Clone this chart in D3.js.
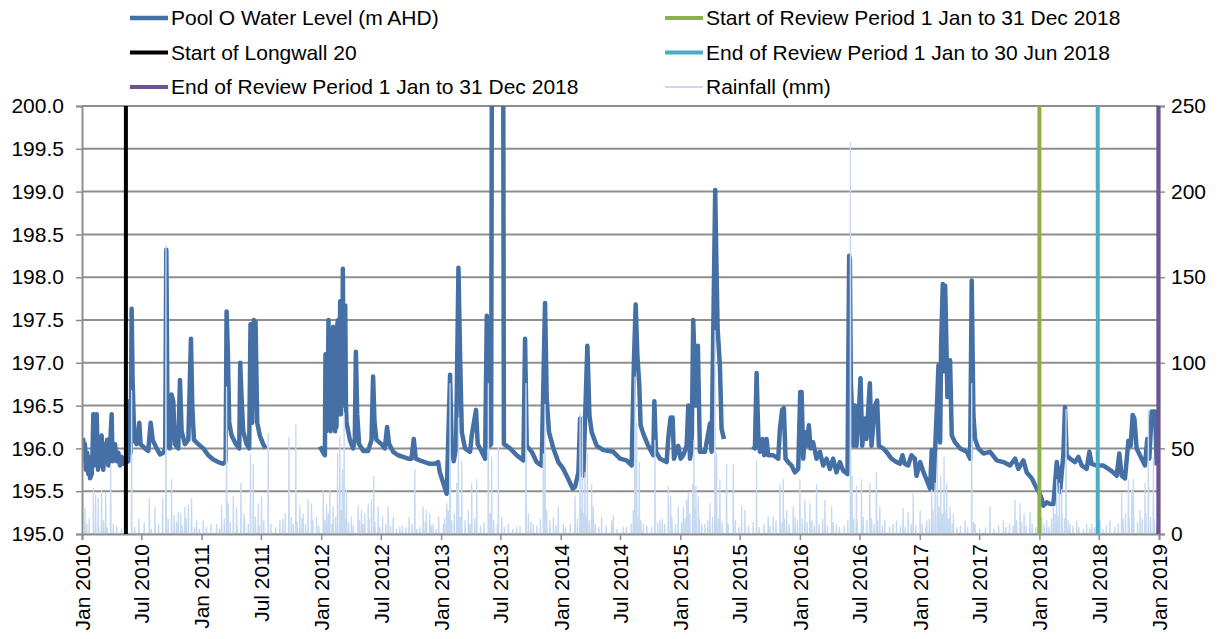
<!DOCTYPE html>
<html>
<head>
<meta charset="utf-8">
<script src="https://cdn.jsdelivr.net/npm/d3@7"></script>
<style>
body { margin: 0; background: #fff; }
svg { display: block; font-family: "Liberation Sans", Arial, sans-serif; }
</style>
</head>
<body>
<svg id="chart" width="1226" height="639"></svg>
<script>
// Pool O water level, [decimal year, m AHD]; null marks a gap in the record
var poolLevel = [
  [2010.006,195.95],[2010.011,196.1],[2010.017,195.85],[2010.024,196.05],[2010.033,195.75],[2010.043,195.95],
  [2010.053,195.7],[2010.060,195.9],[2010.067,195.65],[2010.081,195.7],[2010.088,195.95],
  [2010.095,196.4],[2010.100,195.8],[2010.106,195.9],[2010.114,196.0],[2010.123,196.4],[2010.134,195.75],
  [2010.141,196.1],[2010.150,195.8],[2010.157,196.1],[2010.164,196.15],[2010.172,195.85],
  [2010.178,195.75],[2010.190,196.05],[2010.201,195.85],[2010.210,196.1],[2010.220,195.8],[2010.234,196.0],
  [2010.248,196.4],[2010.255,195.85],[2010.262,195.9],[2010.276,196.05],[2010.290,195.85],[2010.304,195.95],
  [2010.318,195.8],[2010.332,195.9],[2010.345,195.82],[2010.387,195.85],[2010.398,196.55],[2010.407,195.95],
  [2010.415,197.63],[2010.423,196.8],[2010.437,196.1],[2010.457,196.05],[2010.479,196.3],[2010.490,196.05],
  [2010.526,196.0],[2010.554,195.97],[2010.574,196.3],[2010.591,196.1],[2010.624,196.0],[2010.652,195.93],
  [2010.680,195.95],[2010.696,196.0],[2010.705,198.32],[2010.716,196.1],[2010.735,196.0],[2010.749,196.63],
  [2010.763,196.55],[2010.777,196.05],[2010.805,196.0],[2010.819,196.8],[2010.833,196.2],[2010.861,196.05],
  [2010.889,196.1],[2010.911,197.28],[2010.922,196.5],[2010.936,196.1],[2010.972,196.05],[2011.014,196.0],
  [2011.056,195.92],[2011.097,195.87],[2011.139,195.84],[2011.181,195.82],[2011.201,195.85],[2011.209,197.6],
  [2011.220,197.1],[2011.231,196.3],[2011.251,196.15],[2011.287,196.05],[2011.315,196.0],[2011.323,197.0],
  [2011.334,196.6],[2011.348,196.2],[2011.376,196.05],[2011.398,196.0],[2011.409,197.45],[2011.423,196.3],
  [2011.437,197.5],[2011.451,197.48],[2011.465,196.3],[2011.487,196.15],[2011.515,196.05],[2011.535,196.0],
  [2011.75,null],
  [2011.989,196.02],[2012.017,195.95],[2012.031,195.92],[2012.036,197.1],[2012.042,196.2],[2012.047,197.0],
  [2012.053,196.25],[2012.061,197.5],[2012.066,196.3],[2012.072,197.35],[2012.078,196.2],[2012.086,196.4],
  [2012.093,197.3],[2012.100,197.42],[2012.106,196.3],[2012.111,197.4],[2012.117,196.2],[2012.123,197.2],
  [2012.128,196.25],[2012.135,197.45],[2012.142,197.5],[2012.148,196.4],[2012.153,197.2],[2012.159,197.72],
  [2012.165,196.4],[2012.170,197.6],[2012.176,196.5],[2012.181,198.1],[2012.187,196.8],[2012.192,197.1],
  [2012.197,196.5],[2012.201,197.67],[2012.207,196.5],[2012.212,196.3],[2012.240,196.1],[2012.267,196.0],
  [2012.281,196.1],[2012.290,197.13],[2012.301,196.4],[2012.317,196.05],[2012.351,195.97],[2012.393,195.97],
  [2012.421,196.1],[2012.434,196.84],[2012.446,196.3],[2012.462,196.1],[2012.504,196.05],[2012.532,196.0],
  [2012.551,196.25],[2012.568,196.05],[2012.602,195.96],[2012.643,195.92],[2012.685,195.9],[2012.727,195.88],
  [2012.755,195.88],[2012.774,196.11],[2012.791,195.88],[2012.824,195.86],[2012.866,195.84],[2012.908,195.82],
  [2012.950,195.82],[2012.978,195.84],[2012.992,195.72],[2013.047,195.47],[2013.075,196.86],[2013.089,196.0],
  [2013.105,195.85],[2013.125,196.0],[2013.145,198.11],[2013.159,197.05],[2013.173,196.19],[2013.200,196.0],
  [2013.242,195.96],[2013.256,196.15],[2013.292,196.45],[2013.306,196.05],[2013.340,195.96],[2013.368,195.88],
  [2013.382,197.55],[2013.396,196.58],[2013.404,196.03],[2013.418,196.05],[2013.426,201.5],[2013.518,201.5],
  [2013.525,196.05],[2013.577,196.0],[2013.632,195.92],[2013.688,195.86],[2013.702,197.28],[2013.716,196.03],
  [2013.758,195.96],[2013.799,195.84],[2013.841,195.8],[2013.869,197.7],[2013.883,196.58],[2013.902,196.19],
  [2013.939,196.0],[2013.980,195.84],[2014.022,195.76],[2014.064,195.64],[2014.100,195.53],[2014.120,195.55],
  [2014.148,195.72],[2014.162,196.35],[2014.189,195.68],[2014.223,197.2],[2014.240,196.39],[2014.259,196.19],
  [2014.301,196.03],[2014.357,195.98],[2014.440,195.96],[2014.496,195.88],[2014.551,195.86],[2014.593,195.8],
  [2014.613,197.05],[2014.627,197.68],[2014.641,197.09],[2014.657,196.74],[2014.668,196.27],[2014.691,196.17],
  [2014.732,196.03],[2014.774,195.92],[2014.783,196.55],[2014.797,195.96],[2014.830,195.88],[2014.886,195.84],
  [2014.900,196.13],[2014.919,196.36],[2014.936,196.36],[2014.947,195.88],[2014.983,196.03],[2015.003,195.88],
  [2015.025,195.92],[2015.053,196.03],[2015.067,196.5],[2015.081,195.88],[2015.095,196.0],[2015.108,197.5],
  [2015.131,196.5],[2015.147,197.2],[2015.164,195.96],[2015.206,195.96],[2015.248,196.29],[2015.262,195.96],
  [2015.284,198.2],[2015.292,199.02],[2015.300,198.3],[2015.312,197.4],[2015.331,196.97],[2015.345,196.23],
  [2015.365,196.11],
  [2015.48,null],
  [2015.602,196.02],[2015.624,196.0],[2015.638,196.88],[2015.652,196.15],[2015.666,195.96],[2015.688,196.11],
  [2015.702,195.92],[2015.721,196.11],[2015.735,195.92],[2015.777,195.92],[2015.819,195.88],[2015.833,196.23],
  [2015.852,196.45],[2015.866,196.47],[2015.880,195.88],[2015.902,195.84],[2015.930,195.8],[2015.958,195.72],
  [2015.986,195.76],[2016.003,196.66],[2016.014,196.66],[2016.028,195.88],[2016.042,196.19],[2016.056,196.03],
  [2016.075,196.27],[2016.089,196.0],[2016.111,196.07],[2016.139,195.88],[2016.167,195.96],[2016.195,195.8],
  [2016.223,195.88],[2016.251,195.76],[2016.278,195.88],[2016.306,195.72],[2016.334,195.84],[2016.362,195.74],
  [2016.398,195.7],[2016.412,198.25],[2016.418,198.2],[2016.426,196.78],[2016.446,196.03],[2016.460,196.5],
  [2016.473,196.03],[2016.496,196.5],[2016.507,196.82],[2016.521,196.03],[2016.543,196.35],[2016.557,196.11],
  [2016.585,196.76],[2016.599,196.03],[2016.627,196.5],[2016.646,196.56],[2016.660,196.03],[2016.696,196.0],
  [2016.724,195.96],[2016.766,195.88],[2016.808,195.84],[2016.836,195.82],[2016.858,195.92],[2016.877,195.82],
  [2016.905,195.8],[2016.933,195.92],[2016.961,195.88],[2016.975,195.68],[2017.003,195.84],[2017.031,195.72],
  [2017.058,195.63],[2017.086,195.53],[2017.100,195.98],[2017.114,195.53],[2017.128,195.98],[2017.142,196.45],
  [2017.156,196.97],[2017.170,196.07],[2017.178,197.2],[2017.192,197.92],[2017.203,196.9],[2017.212,197.9],
  [2017.231,196.6],[2017.253,197.03],[2017.267,196.15],[2017.295,196.07],[2017.337,196.0],[2017.393,195.96],
  [2017.421,195.88],[2017.434,197.96],[2017.448,196.39],[2017.462,196.11],[2017.490,196.0],[2017.532,195.94],
  [2017.588,195.96],[2017.643,195.86],[2017.699,195.84],[2017.755,195.8],[2017.797,195.88],[2017.824,195.76],
  [2017.866,195.86],[2017.894,195.72],[2017.936,195.65],[2017.978,195.53],[2017.997,195.49],[2018.019,195.41],
  [2018.033,195.33],[2018.061,195.37],[2018.089,195.35],[2018.117,195.35],[2018.145,195.84],[2018.159,195.72],
  [2018.173,195.49],[2018.187,195.72],[2018.200,195.92],[2018.214,196.48],[2018.228,195.92],[2018.256,195.88],
  [2018.298,195.84],[2018.326,195.9],[2018.354,195.8],[2018.395,195.76],[2018.418,195.96],[2018.437,195.82],
  [2018.479,195.8],[2018.535,195.8],[2018.577,195.76],[2018.618,195.72],[2018.646,195.68],[2018.668,195.94],
  [2018.688,195.68],[2018.716,195.65],[2018.744,196.09],[2018.763,196.03],[2018.780,196.39],[2018.794,196.35],
  [2018.813,196.0],[2018.855,195.88],[2018.883,195.8],[2018.902,196.11],[2018.919,195.88],[2018.939,196.43],
  [2018.967,196.43],[2018.981,195.8]
];

// daily rainfall on rain days, [decimal year, mm]
var rainfall = [
  [2010.003,30],[2010.025,15],[2010.04,6],[2010.06,9],[2010.095,27],[2010.114,23],[2010.136,21],[2010.14,5],
  [2010.164,26],[2010.18,8],[2010.198,24],[2010.21,4],[2010.240,40],[2010.262,6],[2010.29,5],[2010.33,3],
  [2010.373,16],[2010.415,84],[2010.44,4],[2010.476,9],[2010.52,7],[2010.563,21],[2010.58,3],[2010.610,16],
  [2010.64,6],[2010.674,21],[2010.702,169],[2010.72,9],[2010.749,32],[2010.77,11],[2010.79,7],[2010.805,13],
  [2010.825,12],[2010.84,5],[2010.861,16],[2010.87,9],[2010.889,17],[2010.916,21],[2010.94,4],[2010.958,8],
  [2010.98,3],[2011.014,8],[2011.04,4],[2011.08,6],[2011.125,6],[2011.15,3],[2011.167,17],[2011.19,9],
  [2011.209,86],[2011.223,18],[2011.24,7],[2011.265,22],[2011.292,16],[2011.30,5],[2011.329,30],[2011.354,12],
  [2011.36,9],[2011.39,6],[2011.409,47],[2011.432,41],[2011.45,10],[2011.474,18],[2011.48,5],[2011.501,22],
  [2011.52,8],[2011.557,59],[2011.58,6],[2011.62,4],[2011.655,8],[2011.68,9],[2011.70,12],[2011.730,57],
  [2011.75,10],[2011.766,6],[2011.788,64],[2011.80,7],[2011.822,17],[2011.84,9],[2011.850,12],[2011.87,6],
  [2011.891,20],[2011.919,18],[2011.93,8],[2011.961,10],[2011.98,5],[2012.017,26],[2012.03,8],[2012.045,18],
  [2012.06,12],[2012.072,26],[2012.09,6],[2012.100,16],[2012.12,10],[2012.137,47],[2012.156,57],[2012.17,14],
  [2012.178,38],[2012.192,71],[2012.20,9],[2012.212,26],[2012.23,7],[2012.253,10],[2012.27,5],[2012.309,17],
  [2012.32,8],[2012.337,14],[2012.35,6],[2012.365,12],[2012.393,18],[2012.40,9],[2012.421,20],[2012.440,34],
  [2012.45,7],[2012.476,16],[2012.49,4],[2012.513,10],[2012.54,6],[2012.560,16],[2012.58,5],[2012.602,10],
  [2012.63,3],[2012.657,4],[2012.68,5],[2012.71,4],[2012.735,10],[2012.76,6],[2012.783,38],[2012.80,3],
  [2012.825,4],[2012.852,16],[2012.87,7],[2012.880,14],[2012.908,12],[2012.92,5],[2012.936,6],[2012.96,3],
  [2012.983,10],[2013.019,6],[2013.03,9],[2013.047,18],[2013.06,14],[2013.075,88],[2013.089,8],[2013.11,12],
  [2013.131,30],[2013.145,68],[2013.16,10],[2013.173,43],[2013.20,8],[2013.228,14],[2013.24,6],[2013.256,30],
  [2013.28,9],[2013.298,32],[2013.33,5],[2013.36,7],[2013.395,88],[2013.41,12],[2013.423,45],[2013.44,8],
  [2013.47,6],[2013.479,51],[2013.507,10],[2013.53,4],[2013.562,6],[2013.60,3],[2013.632,4],[2013.66,5],
  [2013.710,88],[2013.73,12],[2013.75,7],[2013.771,6],[2013.80,5],[2013.83,9],[2013.855,47],[2013.869,76],
  [2013.883,14],[2013.91,8],[2013.939,10],[2013.96,5],[2013.980,16],[2014.022,6],[2014.04,4],[2014.08,6],
  [2014.120,22],[2014.14,9],[2014.162,71],[2014.17,14],[2014.181,69],[2014.19,12],[2014.203,36],[2014.21,10],
  [2014.223,47],[2014.24,8],[2014.259,29],[2014.273,16],[2014.29,6],[2014.32,4],[2014.342,10],[2014.38,5],
  [2014.426,8],[2014.440,11],[2014.47,3],[2014.524,4],[2014.55,4],[2014.59,6],[2014.607,14],[2014.621,92],
  [2014.635,65],[2014.65,10],[2014.657,42],[2014.67,8],[2014.691,6],[2014.72,5],[2014.76,4],[2014.788,55],
  [2014.81,7],[2014.830,8],[2014.85,9],[2014.87,6],[2014.900,28],[2014.919,22],[2014.93,10],[2014.96,6],
  [2014.983,16],[2015.01,7],[2015.025,16],[2015.04,9],[2015.053,20],[2015.067,24],[2015.08,12],[2015.103,29],
  [2015.114,55],[2015.12,14],[2015.131,28],[2015.150,22],[2015.16,9],[2015.18,6],[2015.206,6],[2015.23,8],
  [2015.248,18],[2015.27,10],[2015.290,119],[2015.304,47],[2015.32,9],[2015.331,32],[2015.35,7],[2015.387,41],
  [2015.40,6],[2015.443,41],[2015.46,8],[2015.49,4],[2015.513,16],[2015.540,14],[2015.57,5],[2015.61,7],
  [2015.638,43],[2015.66,4],[2015.70,6],[2015.735,10],[2015.75,5],[2015.777,10],[2015.80,8],[2015.833,29],
  [2015.85,7],[2015.861,32],[2015.87,9],[2015.889,14],[2015.91,6],[2015.944,16],[2015.96,10],[2015.98,8],
  [2016.000,32],[2016.02,9],[2016.042,20],[2016.06,7],[2016.084,18],[2016.10,8],[2016.12,5],[2016.139,29],
  [2016.16,6],[2016.19,9],[2016.209,20],[2016.23,5],[2016.265,16],[2016.28,7],[2016.306,6],[2016.33,4],
  [2016.37,5],[2016.40,8],[2016.423,229],[2016.437,34],[2016.45,9],[2016.473,28],[2016.48,7],[2016.515,32],
  [2016.53,10],[2016.56,8],[2016.585,30],[2016.60,9],[2016.62,6],[2016.640,36],[2016.65,8],[2016.668,16],
  [2016.69,5],[2016.710,8],[2016.75,4],[2016.78,6],[2016.808,8],[2016.84,5],[2016.863,15],[2016.88,4],
  [2016.905,13],[2016.93,6],[2016.947,24],[2016.97,5],[2017.003,14],[2017.02,6],[2017.05,4],[2017.058,8],
  [2017.08,9],[2017.100,26],[2017.11,14],[2017.128,30],[2017.13,12],[2017.147,45],[2017.16,16],[2017.175,34],
  [2017.19,12],[2017.203,45],[2017.21,14],[2017.225,30],[2017.24,9],[2017.253,16],[2017.27,6],[2017.281,12],
  [2017.31,4],[2017.34,5],[2017.378,8],[2017.40,4],[2017.434,88],[2017.45,7],[2017.462,6],[2017.50,3],
  [2017.55,4],[2017.587,16],[2017.62,3],[2017.66,5],[2017.699,8],[2017.72,4],[2017.75,6],[2017.78,5],
  [2017.796,20],[2017.81,8],[2017.838,18],[2017.85,7],[2017.872,12],[2017.89,5],[2017.922,13],[2017.94,6],
  [2017.97,4],[2017.991,4],[2018.00,5],[2018.019,10],[2018.04,6],[2018.061,8],[2018.08,4],[2018.10,9],
  [2018.117,16],[2018.13,12],[2018.145,32],[2018.16,10],[2018.167,30],[2018.186,26],[2018.19,12],[2018.21,9],
  [2018.223,73],[2018.24,8],[2018.256,6],[2018.28,5],[2018.312,8],[2018.33,4],[2018.368,3],[2018.395,6],
  [2018.42,3],[2018.437,6],[2018.46,4],[2018.479,4],[2018.507,8],[2018.53,3],[2018.56,5],[2018.590,8],
  [2018.63,4],[2018.66,6],[2018.688,24],[2018.70,9],[2018.72,12],[2018.744,32],[2018.75,10],[2018.772,26],
  [2018.786,32],[2018.79,9],[2018.82,7],[2018.841,14],[2018.86,9],[2018.883,30],[2018.89,12],[2018.911,73],
  [2018.93,10],[2018.953,45],[2018.96,9],[2018.98,6],[2018.994,12]
];

var markerLines = [
  {name: "Start of Longwall 20", date: "2010-05-15", color: "#000000"},
  {name: "Start of Review Period 1 Jan to 31 Dec 2018", date: "2018-01-01", color: "#8db04a"},
  {name: "End of Review Period 1 Jan to 30 Jun 2018", date: "2018-06-28", color: "#4bacc6"},
  {name: "End of Review Period 1 Jan to 31 Dec 2018", date: "2018-12-30", color: "#6d5491"}
];

var levelTicks = [195, 195.5, 196, 196.5, 197, 197.5, 198, 198.5, 199, 199.5, 200];
var rainTicks = [0, 50, 100, 150, 200, 250];

var legendItems = [
  {name: "Pool O Water Level (m AHD)", color: "#4470a6", w: 4.5, col: 0, row: 0},
  {name: "Start of Longwall 20", color: "#000000", w: 4, col: 0, row: 1},
  {name: "End of Review Period 1 Jan to 31 Dec 2018", color: "#6d5491", w: 4, col: 0, row: 2},
  {name: "Start of Review Period 1 Jan to 31 Dec 2018", color: "#8db04a", w: 4, col: 1, row: 0},
  {name: "End of Review Period 1 Jan to 30 Jun 2018", color: "#4bacc6", w: 4, col: 1, row: 1},
  {name: "Rainfall (mm)", color: "#c6d9f0", w: 2, col: 1, row: 2}
];

function toDate(y) {
  var yr = Math.floor(y);
  return new Date(Date.UTC(yr, 0, 1) + (y - yr) * 365 * 864e5);
}

var svg = d3.select("#chart");
var margin = {top: 106, right: 67, bottom: 105, left: 82};
var width = 1226 - margin.left - margin.right;
var height = 639 - margin.top - margin.bottom;
var grid_color = "#8e8e8e";
var font_size = 21;

var group = svg.append("g").attr("transform", "translate(" + margin.left + "," + margin.top + ")");

var xscale = d3.scaleUtc()
  .domain([new Date(Date.UTC(2010, 0, 1)), new Date(Date.UTC(2019, 0, 1))])
  .range([0, width]);
var yleft = d3.scaleLinear().domain([195, 200]).range([height, 0]);
var yright = d3.scaleLinear().domain([0, 250]).range([height, 0]);

// gridlines
group.append("g")
  .selectAll("line")
  .data(levelTicks)
  .enter().append("line")
  .attr("x1", 0).attr("x2", width)
  .attr("y1", function(d) { return yleft(d); })
  .attr("y2", function(d) { return yleft(d); })
  .attr("stroke", grid_color)
  .attr("stroke-width", 2);

svg.append("clipPath").attr("id", "plotclip")
  .append("rect").attr("x", 0).attr("y", 0).attr("width", width).attr("height", height);

var series = group.append("g").attr("clip-path", "url(#plotclip)");

// water level
var levelLine = d3.line()
  .defined(function(d) { return d[1] !== null; })
  .x(function(d) { return xscale(toDate(d[0])); })
  .y(function(d) { return yleft(d[1]); });

series.append("path")
  .datum(poolLevel)
  .attr("d", levelLine)
  .attr("fill", "none")
  .attr("stroke", "#4470a6")
  .attr("stroke-width", 4.5)
  .attr("stroke-linejoin", "round");

// rainfall (dry days are zero)
var rainPts = [];
rainfall.slice().sort(function(a, b) { return a[0] - b[0]; }).forEach(function(d) {
  var t = toDate(d[0]);
  rainPts.push([d3.utcDay.offset(t, -1), 0], [t, d[1]], [d3.utcDay.offset(t, 1), 0]);
});
var rainLine = d3.line()
  .x(function(d) { return xscale(d[0]); })
  .y(function(d) { return yright(d[1]); });

series.append("path")
  .datum(rainPts)
  .attr("d", rainLine)
  .attr("fill", "none")
  .attr("stroke", "#c6d9f0")
  .attr("stroke-width", 1.3);

// axes
function style_axis(g) {
  g.select(".domain").attr("stroke", grid_color).attr("stroke-width", 2);
  g.selectAll(".tick line").attr("stroke", grid_color).attr("stroke-width", 1.5);
  g.selectAll("text").attr("font-size", font_size).attr("fill", "#000")
    .attr("font-family", "'Liberation Sans', Arial, sans-serif");
}

group.append("g")
  .call(d3.axisLeft(yleft).tickValues(levelTicks).tickFormat(d3.format(".1f")).tickSize(6).tickPadding(12))
  .call(style_axis);

group.append("g")
  .attr("transform", "translate(" + width + ",0)")
  .call(d3.axisRight(yright).tickValues(rainTicks).tickSize(6).tickPadding(6))
  .call(style_axis);

group.append("g")
  .attr("transform", "translate(0," + height + ")")
  .call(d3.axisBottom(xscale).ticks(d3.utcMonth.every(6)).tickFormat(d3.utcFormat("%b %Y")).tickSize(6))
  .call(style_axis)
  .selectAll("text")
  .attr("transform", "rotate(-90)")
  .attr("text-anchor", "end")
  .attr("x", -10)
  .attr("y", 0)
  .attr("dy", "0.35em");

// vertical event lines, drawn over the axes so the last one shows on the right edge
group.append("g")
  .selectAll("line")
  .data(markerLines)
  .enter().append("line")
  .attr("x1", function(d) { return xscale(new Date(d.date)); })
  .attr("x2", function(d) { return xscale(new Date(d.date)); })
  .attr("y1", 0).attr("y2", height)
  .attr("stroke", function(d) { return d.color; })
  .attr("stroke-width", 4);

// legend
var legend = svg.append("g")
  .selectAll("g")
  .data(legendItems)
  .enter().append("g")
  .attr("transform", function(d) { return "translate(" + (d.col ? 665 : 130) + "," + (18 + d.row * 34.5) + ")"; });

legend.append("line")
  .attr("x1", 0).attr("x2", 38)
  .attr("stroke", function(d) { return d.color; })
  .attr("stroke-width", function(d) { return d.w; });

legend.append("text")
  .attr("x", 41)
  .attr("dy", "0.35em")
  .attr("font-size", font_size)
  .attr("fill", "#000")
  .text(function(d) { return d.name; });
</script>
</body>
</html>
